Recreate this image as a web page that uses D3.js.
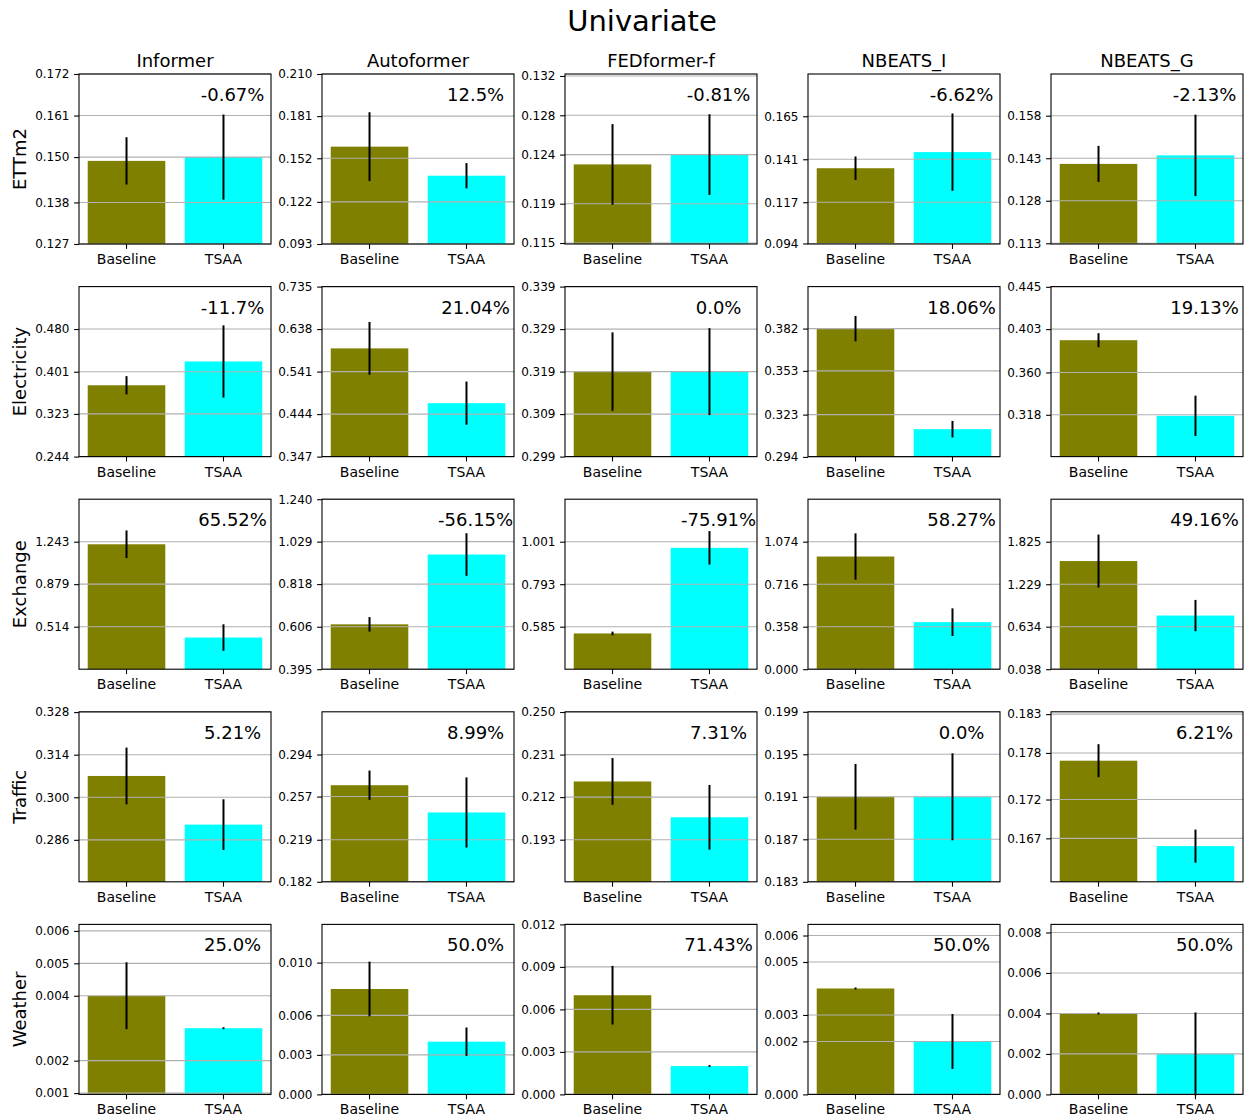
<!DOCTYPE html>
<html>
<head>
<meta charset="utf-8">
<script src="https://cdn.jsdelivr.net/npm/d3@7"></script>
<style>
  html, body { margin: 0; padding: 0; background: #ffffff; }
  svg { display: block; font-family: "DejaVu Sans", sans-serif; }
</style>
</head>
<body>
<svg id="chart" width="1249" height="1120"></svg>
<script>
// Datasets (rows) and models (columns)
const datasets = ["ETTm2", "Electricity", "Exchange", "Traffic", "Weather"];
const models = ["Informer", "Autoformer", "FEDformer-f", "NBEATS_I", "NBEATS_G"];
const groups = ["Baseline", "TSAA"];

// Mean error per dataset/model, baseline run
const baselineMean = [
  [0.149, 0.160, 0.123, 0.136, 0.141],
  [0.376, 0.594, 0.319, 0.382, 0.392],
  [1.221, 0.618, 0.552, 0.949, 1.554],
  [0.307, 0.267, 0.219, 0.191, 0.177],
  [0.004, 0.008, 0.007, 0.004, 0.004]
];
// Spread (half length of the error bar), baseline run
const baselineStd = [
  [0.006, 0.023, 0.004, 0.006, 0.006],
  [0.015, 0.058, 0.009, 0.008, 0.006],
  [0.110, 0.031, 0.004, 0.187, 0.357],
  [0.009, 0.012, 0.010, 0.003, 0.002],
  [0.001, 0.002, 0.002, 0.000, 0.000]
];
// Mean error per dataset/model, TSAA run
const tsaaMean = [
  [0.150, 0.140, 0.124, 0.145, 0.144],
  [0.420, 0.469, 0.319, 0.313, 0.317],
  [0.421, 0.965, 0.971, 0.396, 0.790],
  [0.291, 0.243, 0.203, 0.191, 0.166],
  [0.003, 0.004, 0.002, 0.002, 0.002]
];
// Spread (half length of the error bar), TSAA run
const tsaaStd = [
  [0.011, 0.008, 0.004, 0.021, 0.014],
  [0.065, 0.047, 0.010, 0.005, 0.019],
  [0.105, 0.101, 0.077, 0.108, 0.205],
  [0.008, 0.030, 0.014, 0.004, 0.002],
  [0.000, 0.001, 0.000, 0.001, 0.002]
];
// Y-axis limits per panel
const yLimits = [
  [[0.127, 0.172], [0.093, 0.210], [0.1149, 0.1322], [0.0937, 0.1886], [0.11275, 0.1727]],
  [[0.244, 0.5585], [0.347, 0.735], [0.299, 0.339], [0.2942, 0.4108], [0.2765, 0.4452]],
  [[0.1496, 1.6076], [0.395, 1.240], [0.377, 1.209], [0.0, 1.4318], [0.038, 2.4208]],
  [[0.2722, 0.3281], [0.182, 0.3316], [0.1742, 0.2501], [0.183, 0.199], [0.1614, 0.1833]],
  [[0.00096, 0.0062], [0.0, 0.0129], [0.0, 0.012], [0.0, 0.00642], [0.0, 0.0084]]
];
// Y tick values per panel
const yTicks = [
  [[0.127, 0.138, 0.150, 0.161, 0.172], [0.093, 0.122, 0.152, 0.181, 0.210], [0.115, 0.119, 0.124, 0.128, 0.132], [0.094, 0.117, 0.141, 0.165], [0.113, 0.128, 0.143, 0.158]],
  [[0.244, 0.323, 0.401, 0.480], [0.347, 0.444, 0.541, 0.638, 0.735], [0.299, 0.309, 0.319, 0.329, 0.339], [0.294, 0.323, 0.353, 0.382], [0.318, 0.360, 0.403, 0.445]],
  [[0.514, 0.879, 1.243], [0.395, 0.606, 0.818, 1.029, 1.240], [0.585, 0.793, 1.001], [0.000, 0.358, 0.716, 1.074], [0.038, 0.634, 1.229, 1.825]],
  [[0.286, 0.300, 0.314, 0.328], [0.182, 0.219, 0.257, 0.294], [0.193, 0.212, 0.231, 0.250], [0.183, 0.187, 0.191, 0.195, 0.199], [0.167, 0.172, 0.178, 0.183]],
  [[0.001, 0.002, 0.004, 0.005, 0.006], [0.000, 0.003, 0.006, 0.010], [0.000, 0.003, 0.006, 0.009, 0.012], [0.000, 0.002, 0.003, 0.005, 0.006], [0.000, 0.002, 0.004, 0.006, 0.008]]
];
const barColors = ["#808000", "#00ffff"];
const figureTitle = "Univariate";

// ---- layout ----
const svg = d3.select("#chart");
const panelW = 192, panelH = 170;
const colLeft = c => 79 + 243 * c;
const rowTop = r => 74 + 212.6 * r;
const tickLen = 4.9;

svg.append("rect").attr("width", 1249).attr("height", 1120).attr("fill", "#ffffff");

svg.append("text")
  .attr("x", 642).attr("y", 31)
  .attr("text-anchor", "middle")
  .attr("font-size", 29)
  .text(figureTitle);

// Relative improvement of TSAA over the baseline, in percent
function pctLabel(b, t) {
  const r = Math.round((b - t) / b * 10000) / 100;
  const v = Object.is(r, -0) ? 0 : r;
  return Number.isInteger(v) ? v.toFixed(1) + "%" : String(v) + "%";
}

const x = d3.scaleBand().domain(groups).range([0, panelW]).paddingInner(0.2).paddingOuter(0.09);

datasets.forEach((ds, r) => {
  models.forEach((m, c) => {
    const g = svg.append("g").attr("transform", `translate(${colLeft(c)},${rowTop(r)})`);
    const y = d3.scaleLinear().domain(yLimits[r][c]).range([panelH, 0]);
    const rows = groups.map((grp, i) => ({
      grp,
      mean: i === 0 ? baselineMean[r][c] : tsaaMean[r][c],
      sd: i === 0 ? baselineStd[r][c] : tsaaStd[r][c],
      color: barColors[i]
    }));
    const ticks = yTicks[r][c];

    // bars
    g.selectAll("rect.bar").data(rows).join("rect")
      .attr("class", "bar")
      .attr("x", d => x(d.grp))
      .attr("width", x.bandwidth())
      .attr("y", d => y(d.mean))
      .attr("height", d => panelH - y(d.mean))
      .attr("fill", d => d.color);

    // horizontal grid
    g.selectAll("line.grid").data(ticks).join("line")
      .attr("class", "grid")
      .attr("x1", 0).attr("x2", panelW)
      .attr("y1", d => y(d)).attr("y2", d => y(d))
      .attr("stroke", "#b0b0b0").attr("stroke-width", 1.1);

    // error bars
    g.selectAll("line.err").data(rows).join("line")
      .attr("class", "err")
      .attr("x1", d => x(d.grp) + x.bandwidth() / 2)
      .attr("x2", d => x(d.grp) + x.bandwidth() / 2)
      .attr("y1", d => y(d.mean - d.sd))
      .attr("y2", d => y(d.mean + d.sd))
      .attr("stroke", "#000").attr("stroke-width", 2)
      .attr("stroke-linecap", "square");

    // y axis
    const ya = g.append("g").call(
      d3.axisLeft(y).tickValues(ticks).tickFormat(d3.format(".3f"))
        .tickSize(tickLen).tickPadding(4.6)
    );
    ya.select(".domain").remove();
    ya.selectAll("line").attr("stroke", "#000").attr("stroke-width", 1.1);
    ya.selectAll("text").attr("font-size", 12).attr("fill", "#000")
      .attr("font-family", "DejaVu Sans, sans-serif");

    // x axis
    const xa = g.append("g").attr("transform", `translate(0,${panelH})`).call(
      d3.axisBottom(x).tickSize(tickLen).tickPadding(5.1)
    );
    xa.select(".domain").remove();
    xa.selectAll("line").attr("stroke", "#000").attr("stroke-width", 1.1);
    xa.selectAll("text").attr("font-size", 14).attr("fill", "#000")
      .attr("font-family", "DejaVu Sans, sans-serif");

    // frame
    g.append("rect")
      .attr("x", 0).attr("y", 0).attr("width", panelW).attr("height", panelH)
      .attr("fill", "none").attr("stroke", "#000").attr("stroke-width", 1.1);

    // improvement label
    g.append("text")
      .attr("x", panelW * 0.8).attr("y", 27)
      .attr("text-anchor", "middle")
      .attr("font-size", 18)
      .text(pctLabel(baselineMean[r][c], tsaaMean[r][c]));

    // column titles
    if (r === 0) {
      g.append("text")
        .attr("x", panelW / 2).attr("y", -7)
        .attr("text-anchor", "middle")
        .attr("font-size", 18)
        .text(m);
    }
    // row labels
    if (c === 0) {
      svg.append("text")
        .attr("transform", `translate(26,${rowTop(r) + panelH / 2}) rotate(-90)`)
        .attr("text-anchor", "middle")
        .attr("font-size", 18)
        .text(ds);
    }
  });
});
</script>
</body>
</html>
